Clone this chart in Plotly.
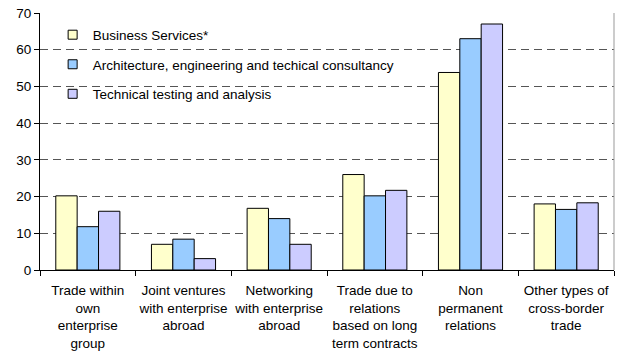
import plotly.graph_objects as go

categories = [
    "Trade within<br>own<br>enterprise<br>group",
    "Joint ventures<br>with enterprise<br>abroad",
    "Networking<br>with enterprise<br>abroad",
    "Trade due to<br>relations<br>based on long<br>term contracts",
    "Non<br>permanent<br>relations",
    "Other types of<br>cross-border<br>trade",
]
series_names = [
    "Business Services*",
    "Architecture, engineering and techical consultancy",
    "Technical testing and analysis",
]
business = [20.2, 7.0, 16.8, 26.0, 53.8, 18.0]
architecture = [11.8, 8.4, 14.0, 20.2, 63.0, 16.5]
technical = [16.0, 3.1, 7.0, 21.7, 67.0, 18.3]
colors = ["#FFFFCC", "#99CCFF", "#CCCCFF"]
y_ticks = [0, 10, 20, 30, 40, 50, 60, 70]

fig = go.Figure()
for i, (name, vals) in enumerate(zip(series_names, [business, architecture, technical])):
    fig.add_trace(go.Bar(
        x=categories, y=vals, name=name, showlegend=False,
        marker=dict(color=colors[i], line=dict(color="black", width=1)),
    ))
for i, name in enumerate(series_names):
    fig.add_trace(go.Scatter(
        x=[None], y=[None], mode="markers", name=name, legendgroup=str(i),
        marker=dict(symbol="square", size=9, color=colors[i],
                    line=dict(color="black", width=1)),
    ))

fig.update_layout(
    width=618, height=353,
    margin=dict(l=40, r=4, t=13, b=83),
    paper_bgcolor="white", plot_bgcolor="white",
    barmode="group", bargap=0.33, bargroupgap=0,
    font=dict(family="Liberation Sans, Arial, sans-serif", size=13.5, color="black"),
    legend=dict(x=0.022, y=0.975, xanchor="left", yanchor="top",
                bgcolor="rgba(0,0,0,0)", tracegroupgap=9,
                font=dict(size=13.5), itemwidth=30),
    showlegend=True,
)
fig.update_xaxes(
    type="category", tickson="boundaries", ticks="outside", ticklen=5,
    tickcolor="black", showline=True, linecolor="black", linewidth=1,
    showgrid=False, tickfont=dict(size=13.5), tickangle=0, automargin=False,
    ticklabelstandoff=8,
)
fig.update_yaxes(
    range=[0, 70], tickvals=y_ticks, ticks="outside", ticklen=5,
    tickcolor="black", showline=True, linecolor="black", linewidth=1,
    showgrid=True, gridcolor="#555555", griddash="8px,5px", gridwidth=1,
    zeroline=False, tickfont=dict(size=13.5), automargin=False,
)
fig.add_shape(type="rect", xref="paper", yref="y", x0=0.002, x1=0.683, y0=44, y1=68.5,
              fillcolor="white", line=dict(width=0), layer="between")
fig.add_shape(type="line", xref="paper", yref="paper", x0=1, x1=1, y0=0, y1=1,
              line=dict(color="#999999", width=1))
fig.write_html("out.html")
